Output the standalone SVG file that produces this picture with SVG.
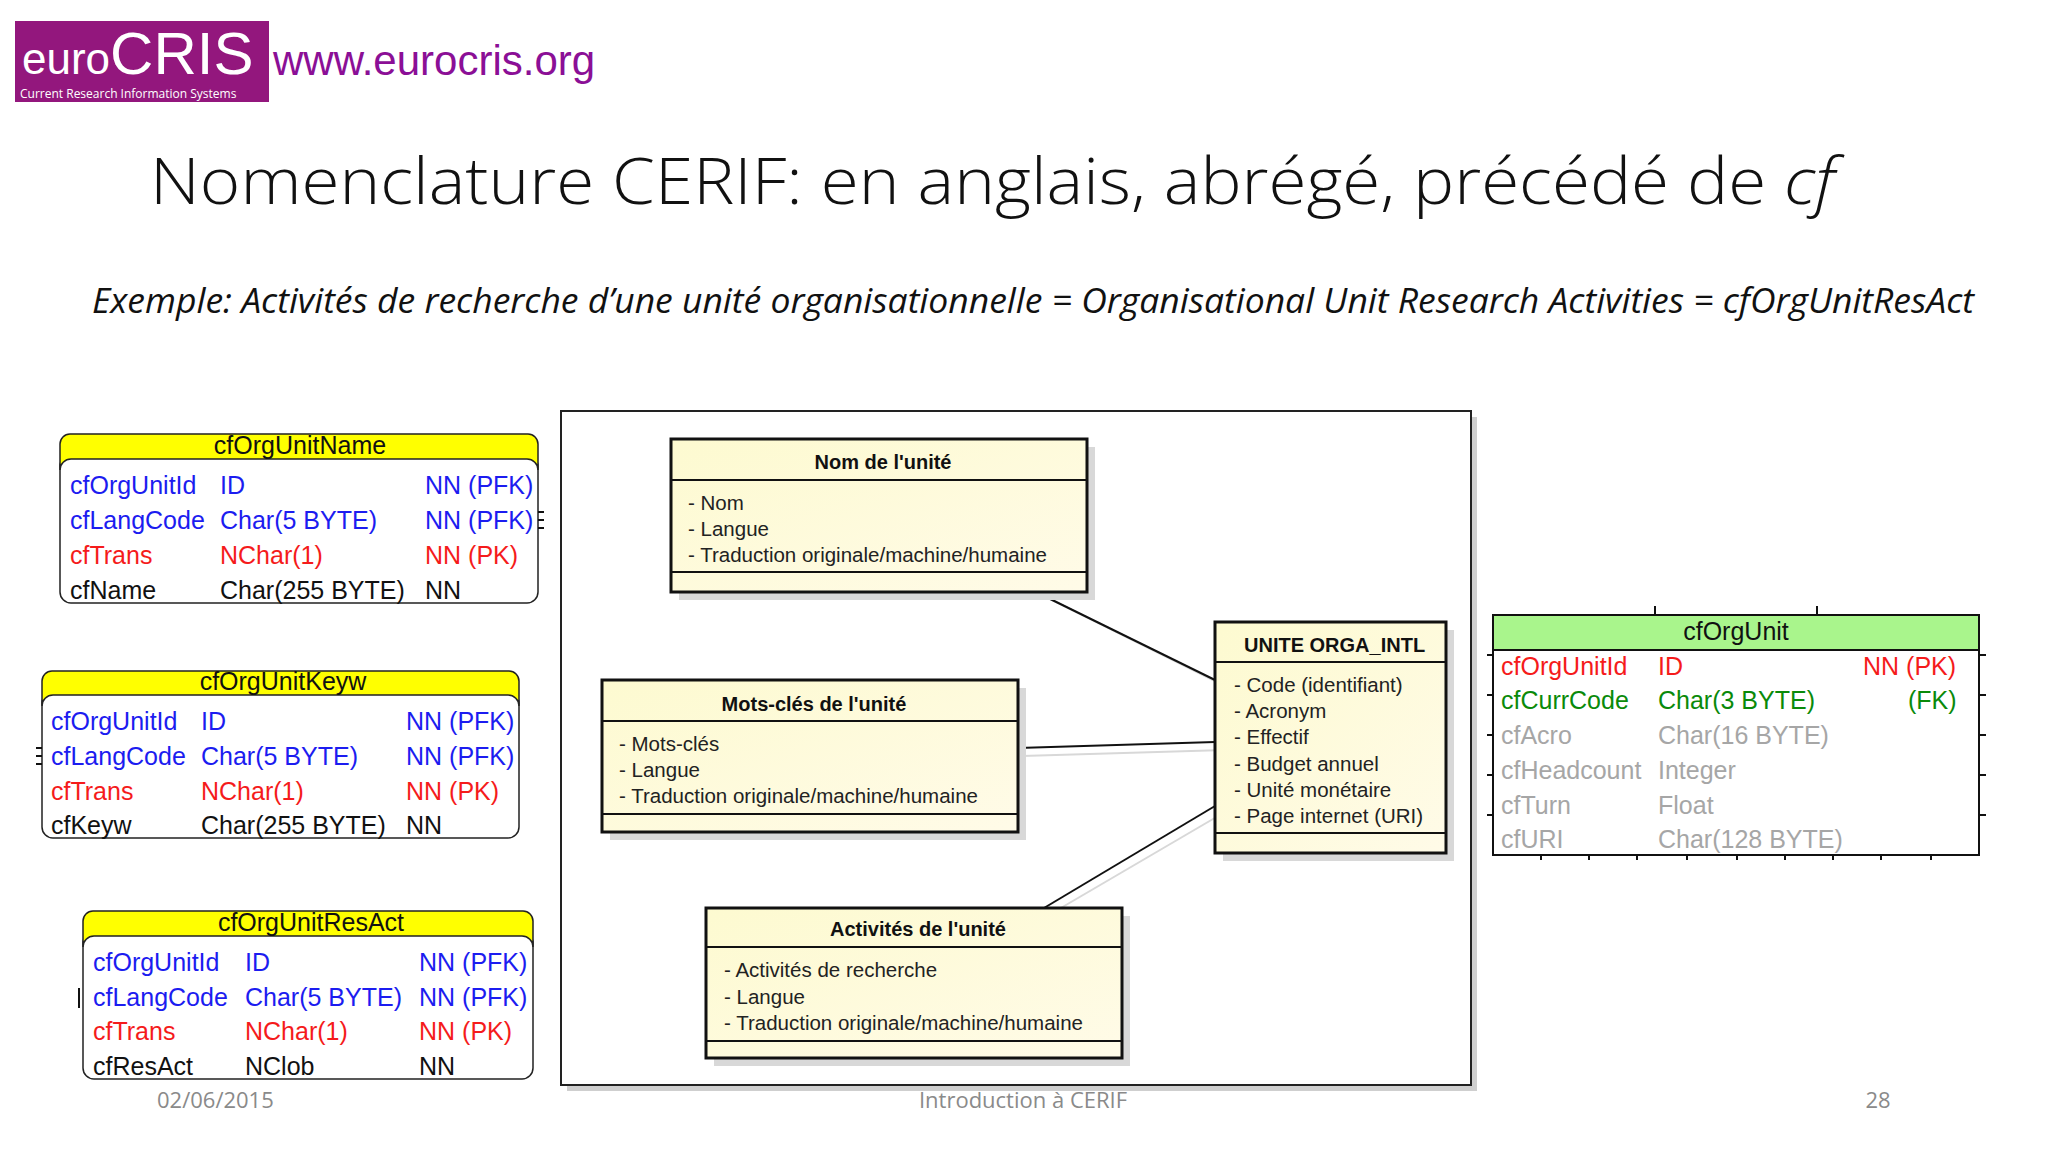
<svg xmlns="http://www.w3.org/2000/svg" width="2048" height="1152" viewBox="0 0 2048 1152">
<defs>
<linearGradient id="yel" x1="0" y1="0" x2="1" y2="1"><stop offset="0" stop-color="#fdfad0"/><stop offset="1" stop-color="#fffbe8"/></linearGradient>
<style>
.t{font-family:"Liberation Sans",Arial,sans-serif}
.c{font-family:"Open Sans","Noto Sans",sans-serif}
.tb{font-family:"Liberation Sans",Arial,sans-serif;font-size:25px}
.bl{fill:#1c1cf0}.rd{fill:#f51b1b}.bk{fill:#111}.gr{fill:#0a8a0a}.gy{fill:#a6a6a6}
.hdr{fill:#ffff00;stroke:#222;stroke-width:1.5}
.body{fill:#fff;stroke:#222;stroke-width:1.5}
.uml{fill:url(#yel);stroke:#111;stroke-width:3}
.sh{fill:#d8d8d8}
.ut{font-family:"Liberation Sans",Arial,sans-serif;font-size:20px;font-weight:bold;fill:#111}
.ua{font-family:"Liberation Sans",Arial,sans-serif;font-size:20.5px;fill:#222}
.con{stroke:#111;stroke-width:2;fill:none}
.cons{stroke:#d8d8d8;stroke-width:2;fill:none}
.tick{stroke:#111;stroke-width:2}
</style>
</defs>
<rect width="2048" height="1152" fill="#fff"/>
<g id="logo">
<rect x="15" y="21" width="254" height="81" fill="#93177d"/>
<text x="22" y="74" class="t" font-size="44" fill="#fff">euro<tspan font-size="60">CRIS</tspan></text>
<text x="20" y="98" class="c" font-size="12" fill="#fff">Current Research Information Systems</text>
<text x="273" y="75" class="t" font-size="42" fill="#8b0f96">www.eurocris.org</text>
</g>
<text x="150" y="204" class="c" font-size="64" font-weight="300" fill="#111" textLength="1685" lengthAdjust="spacingAndGlyphs">Nomenclature CERIF: en anglais, abrégé, précédé de <tspan font-style="italic">cf</tspan></text>
<text x="92" y="313" class="c" font-size="34" font-style="italic" fill="#111" textLength="1882" lengthAdjust="spacingAndGlyphs">Exemple: Activités de recherche d’une unité organisationnelle = Organisational Unit Research Activities = cfOrgUnitResAct</text>

<g id="cfOrgUnitName">
<rect class="body" x="60" y="455" width="478" height="148" rx="11"/>
<path class="hdr" d="M60,470 V444 a10,10 0 0 1 10,-10 H528 a10,10 0 0 1 10,10 V470 a11,11 0 0 0 -11,-11 H71 a11,11 0 0 0 -11,11 Z"/>
<text x="300" y="454" class="tb bk" text-anchor="middle">cfOrgUnitName</text>
<g class="tb"><text y="494" class="bl"><tspan x="70">cfOrgUnitId</tspan><tspan x="220">ID</tspan><tspan x="425">NN (PFK)</tspan></text>
<text y="529" class="bl"><tspan x="70">cfLangCode</tspan><tspan x="220">Char(5 BYTE)</tspan><tspan x="425">NN (PFK)</tspan></text>
<text y="564" class="rd"><tspan x="70">cfTrans</tspan><tspan x="220">NChar(1)</tspan><tspan x="425">NN (PK)</tspan></text>
<text y="599" class="bk"><tspan x="70">cfName</tspan><tspan x="220">Char(255 BYTE)</tspan><tspan x="425">NN</tspan></text></g>
<path class="tick" d="M538,512 h6 M538,520 h6 M538,528 h6" stroke-width="1.5"/>
</g>

<g id="cfOrgUnitKeyw">
<rect class="body" x="42" y="692" width="477" height="146" rx="11"/>
<path class="hdr" d="M42,706 V681 a10,10 0 0 1 10,-10 H509 a10,10 0 0 1 10,10 V706 a11,11 0 0 0 -11,-11 H53 a11,11 0 0 0 -11,11 Z"/>
<text x="283" y="690" class="tb bk" text-anchor="middle">cfOrgUnitKeyw</text>
<g class="tb"><text y="730" class="bl"><tspan x="51">cfOrgUnitId</tspan><tspan x="201">ID</tspan><tspan x="406">NN (PFK)</tspan></text>
<text y="765" class="bl"><tspan x="51">cfLangCode</tspan><tspan x="201">Char(5 BYTE)</tspan><tspan x="406">NN (PFK)</tspan></text>
<text y="800" class="rd"><tspan x="51">cfTrans</tspan><tspan x="201">NChar(1)</tspan><tspan x="406">NN (PK)</tspan></text>
<text y="834" class="bk"><tspan x="51">cfKeyw</tspan><tspan x="201">Char(255 BYTE)</tspan><tspan x="406">NN</tspan></text></g>
<path class="tick" d="M36,748 h6 M36,756 h6 M36,764 h6" stroke-width="1.5"/>
</g>

<g id="cfOrgUnitResAct">
<rect class="body" x="83" y="932" width="450" height="147" rx="11"/>
<path class="hdr" d="M83,947 V921 a10,10 0 0 1 10,-10 H523 a10,10 0 0 1 10,10 V947 a11,11 0 0 0 -11,-11 H94 a11,11 0 0 0 -11,11 Z"/>
<text x="311" y="931" class="tb bk" text-anchor="middle">cfOrgUnitResAct</text>
<g class="tb"><text y="971" class="bl"><tspan x="93">cfOrgUnitId</tspan><tspan x="245">ID</tspan><tspan x="419">NN (PFK)</tspan></text>
<text y="1006" class="bl"><tspan x="93">cfLangCode</tspan><tspan x="245">Char(5 BYTE)</tspan><tspan x="419">NN (PFK)</tspan></text>
<text y="1040" class="rd"><tspan x="93">cfTrans</tspan><tspan x="245">NChar(1)</tspan><tspan x="419">NN (PK)</tspan></text>
<text y="1075" class="bk"><tspan x="93">cfResAct</tspan><tspan x="245">NClob</tspan><tspan x="419">NN</tspan></text></g>
<path class="tick" d="M79,988 v20" stroke-width="1.5"/>
</g>

<g id="frame">
<rect x="567" y="417" width="910" height="674" fill="#cfcfcf"/>
<rect x="561" y="411" width="910" height="674" fill="#fff" stroke="#222" stroke-width="2"/>
</g>

<g id="connectors">
<line class="cons" x1="1046" y1="597" x2="1225" y2="686"/>
<line class="cons" x1="1022" y1="756" x2="1225" y2="750"/>
<line class="cons" x1="1054" y1="912" x2="1225" y2="812"/>
<line class="con" x1="1038" y1="593" x2="1215" y2="680"/>
<line class="con" x1="1018" y1="748" x2="1215" y2="742"/>
<line class="con" x1="1044" y1="908" x2="1215" y2="806"/>
</g>

<g id="nom">
<rect class="sh" x="679" y="447" width="416" height="153"/>
<rect class="uml" x="671" y="439" width="416" height="153"/>
<line x1="671" y1="480" x2="1087" y2="480" stroke="#111" stroke-width="2"/>
<line x1="671" y1="572" x2="1087" y2="572" stroke="#111" stroke-width="2"/>
<text x="883" y="469" class="ut" text-anchor="middle">Nom de l'unité</text>
<text class="ua"><tspan x="688" y="510">- Nom</tspan><tspan x="688" y="536">- Langue</tspan><tspan x="688" y="562">- Traduction originale/machine/humaine</tspan></text>
</g>

<g id="mots">
<rect class="sh" x="610" y="688" width="416" height="152"/>
<rect class="uml" x="602" y="680" width="416" height="152"/>
<line x1="602" y1="721" x2="1018" y2="721" stroke="#111" stroke-width="2"/>
<line x1="602" y1="814" x2="1018" y2="814" stroke="#111" stroke-width="2"/>
<text x="814" y="711" class="ut" text-anchor="middle">Mots-clés de l'unité</text>
<text class="ua"><tspan x="619" y="751">- Mots-clés</tspan><tspan x="619" y="777">- Langue</tspan><tspan x="619" y="803">- Traduction originale/machine/humaine</tspan></text>
</g>

<g id="activites">
<rect class="sh" x="714" y="916" width="416" height="150"/>
<rect class="uml" x="706" y="908" width="416" height="150"/>
<line x1="706" y1="947" x2="1122" y2="947" stroke="#111" stroke-width="2"/>
<line x1="706" y1="1041" x2="1122" y2="1041" stroke="#111" stroke-width="2"/>
<text x="918" y="936" class="ut" text-anchor="middle">Activités de l'unité</text>
<text class="ua"><tspan x="724" y="977">- Activités de recherche</tspan><tspan x="724" y="1004">- Langue</tspan><tspan x="724" y="1030">- Traduction originale/machine/humaine</tspan></text>
</g>

<g id="unite">
<rect class="sh" x="1223" y="630" width="231" height="231"/>
<rect class="uml" x="1215" y="622" width="231" height="231"/>
<line x1="1215" y1="662" x2="1446" y2="662" stroke="#111" stroke-width="2"/>
<line x1="1215" y1="833" x2="1446" y2="833" stroke="#111" stroke-width="2"/>
<text x="1244" y="652" class="ut">UNITE ORGA_INTL</text>
<text class="ua"><tspan x="1234" y="692">- Code (identifiant)</tspan><tspan x="1234" y="718">- Acronym</tspan><tspan x="1234" y="744">- Effectif</tspan><tspan x="1234" y="771">- Budget annuel</tspan><tspan x="1234" y="797">- Unité monétaire</tspan><tspan x="1234" y="823">- Page internet (URI)</tspan></text>
</g>

<g id="cfOrgUnit">
<rect x="1493" y="615" width="486" height="240" fill="#fff" stroke="#111" stroke-width="2"/>
<rect x="1493" y="615" width="486" height="35" fill="#a9f58c" stroke="#111" stroke-width="2"/>
<text x="1736" y="640" class="tb bk" text-anchor="middle">cfOrgUnit</text>
<g class="tb"><text y="675" class="rd"><tspan x="1501">cfOrgUnitId</tspan><tspan x="1658">ID</tspan><tspan x="1863">NN (PK)</tspan></text>
<text y="709" class="gr"><tspan x="1501">cfCurrCode</tspan><tspan x="1658">Char(3 BYTE)</tspan><tspan x="1908">(FK)</tspan></text>
<text y="744" class="gy"><tspan x="1501">cfAcro</tspan><tspan x="1658">Char(16 BYTE)</tspan></text>
<text y="779" class="gy"><tspan x="1501">cfHeadcount</tspan><tspan x="1658">Integer</tspan></text>
<text y="814" class="gy"><tspan x="1501">cfTurn</tspan><tspan x="1658">Float</tspan></text>
<text y="848" class="gy"><tspan x="1501">cfURI</tspan><tspan x="1658">Char(128 BYTE)</tspan></text></g>
<path class="tick" stroke-width="1.5" d="M1655,606 v9 M1817,606 v9 M1487,655 h6 M1487,695 h6 M1487,735 h6 M1487,775 h6 M1487,815 h6 M1979,655 h7 M1979,695 h7 M1979,735 h7 M1979,775 h7 M1979,815 h7 M1541,855 v5 M1589,855 v5 M1637,855 v5 M1687,855 v5 M1737,855 v5 M1785,855 v5 M1833,855 v5 M1881,855 v5 M1931,855 v5"/>
</g>

<g id="footer" class="c" font-size="22" fill="#8a8a8a">
<text x="157" y="1108">02/06/2015</text>
<text x="1023" y="1108" text-anchor="middle">Introduction à CERIF</text>
<text x="1878" y="1108" text-anchor="middle">28</text>
</g>
</svg>
